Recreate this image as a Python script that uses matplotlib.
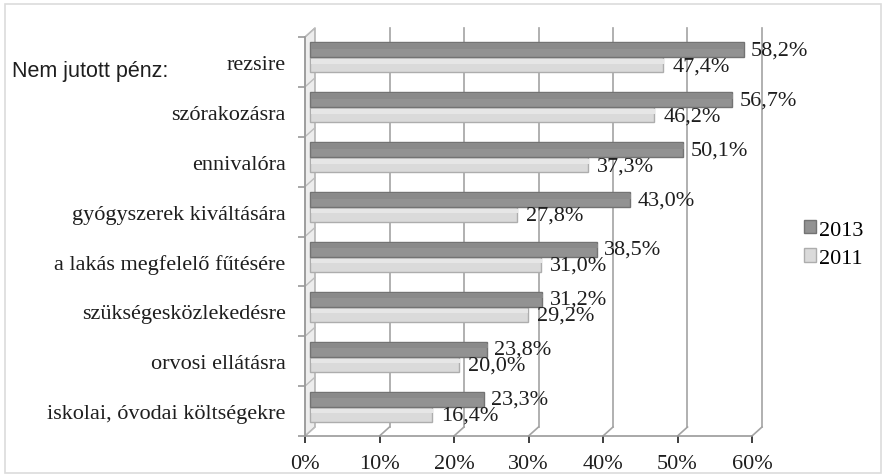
import numpy as np
import matplotlib
matplotlib.use('Agg')
import matplotlib.pyplot as plt
from matplotlib.patches import Polygon, Rectangle

# ── Adatok ───────────────────────────────────────────────────────────────────
categories = ['rezsire', 'szórakozásra', 'ennivalóra', 'gyógyszerek kiváltására',
              'a lakás megfelelő fűtésére', 'szükségesközlekedésre',
              'orvosi ellátásra', 'iskolai, óvodai költségekre']
vals_2013 = [58.2, 56.7, 50.1, 43.0, 38.5, 31.2, 23.8, 23.3]
vals_2011 = [47.4, 46.2, 37.3, 27.8, 31.0, 29.2, 20.0, 16.4]
x_ticks = [0, 10, 20, 30, 40, 50, 60]

SERIF = 'Liberation Serif'
SANS = 'Liberation Sans'
DARK, DARK_EDGE = '#929292', '#737373'
LIGHT, LIGHT_EDGE = '#dadada', '#adadad'
GRID = '#a3a3a3'
TXT = '#1e1e1e'
FS = 16

W, H = 883, 477
fig = plt.figure(figsize=(W / 100, H / 100), dpi=100)
fig.patch.set_facecolor('white')
fig.patches.append(Rectangle((5 / W, 3 / H), (W - 7) / W, (H - 8) / H,
                             transform=fig.transFigure, fill=False,
                             edgecolor='#dcdcdc', linewidth=1.2))

ax_l, ax_r, ax_t, ax_b = 305, 752, 38, 437
ax = fig.add_axes([ax_l / W, (H - ax_b) / H, (ax_r - ax_l) / W, (ax_b - ax_t) / H])
ax.set_xlim(0, 60)
n = len(categories)
ax.set_ylim(n - 0.5, -0.5)
ax.set_facecolor('none')

# pixel -> data units (3D depth offsets)
px_x = (ax_r - ax_l) / 60.0
px_y = (ax_b - ax_t) / n
dxb, dyb = 10 / px_x, -9 / px_y    # back wall
dxm, dym = 5 / px_x, -5 / px_y     # bar plane

# left wall
wall = Polygon([(0, n - 0.5), (0, -0.5), (dxb, -0.5 + dyb), (dxb, n - 0.5 + dyb)],
               closed=True, facecolor='#ededed', edgecolor='#a8a8a8', lw=1.0,
               clip_on=False, zorder=1)
ax.add_patch(wall)
for k in range(n + 1):
    ax.plot([0, dxb], [k - 0.5, k - 0.5 + dyb], color='#bcbcbc', lw=1.0,
            clip_on=False, zorder=1)

# back gridlines + floor slants
for v in x_ticks[1:]:
    ax.plot([v, v + dxb], [n - 0.5, n - 0.5 + dyb], color=GRID, lw=1.2,
            clip_on=False, zorder=1)
    ax.plot([v + dxb, v + dxb], [n - 0.5 + dyb, -0.5 + dyb], color=GRID, lw=1.2,
            clip_on=False, zorder=1)

# bars
y = np.arange(n)
h = 0.30
b13 = ax.barh(y - 0.14 + dym, vals_2013, height=h, left=dxm, color=DARK,
              edgecolor=DARK_EDGE, linewidth=1.0, zorder=3, label='2013')
b11 = ax.barh(y + 0.16 + dym, vals_2011, height=h, left=dxm, color=LIGHT,
              edgecolor=LIGHT_EDGE, linewidth=1.0, zorder=2, label='2011')
# shading on bars
ax.barh(y - 0.14 + dym - h * 0.22, vals_2013, height=h * 0.3, left=dxm + 0.1,
        color='#8a8a8a', linewidth=0, zorder=3)
ax.barh(y + 0.16 + dym - h * 0.22, vals_2011, height=h * 0.3, left=dxm + 0.1,
        color='#e6e6e6', linewidth=0, zorder=2)

lbl = lambda v: f'{v:.1f}%'.replace('.', ',')
for i in range(n):
    ax.text(dxm + vals_2013[i] + 7 / px_x, i - 0.14 + dym, lbl(vals_2013[i]),
            ha='left', va='center', fontsize=FS, family=SERIF, color=TXT, zorder=5)
    ax.text(dxm + vals_2011[i] + 9 / px_x, i + 0.18 + dym, lbl(vals_2011[i]),
            ha='left', va='center', fontsize=FS, family=SERIF, color=TXT, zorder=5)

# axes
for s in ['top', 'right']:
    ax.spines[s].set_visible(False)
for s in ['left', 'bottom']:
    ax.spines[s].set_color('#9a9a9a')
    ax.spines[s].set_linewidth(1.2)
ax.set_xticks(x_ticks)
ax.set_xticklabels([f'{v}%' for v in x_ticks], family=SERIF, fontsize=FS)
ax.set_yticks(y)
ax.set_yticklabels(categories, family=SERIF, fontsize=FS)
ax.set_yticks(np.arange(n + 1) - 0.5, minor=True)
ax.tick_params(axis='y', which='major', length=0, pad=14)
ax.tick_params(axis='y', which='minor', length=5, color='#9a9a9a', width=1.2, direction='out')
ax.tick_params(axis='x', length=5, color='#9a9a9a', width=1.2, pad=8)
ax.tick_params(colors=TXT, which='major')

fig.text(12 / W, 1 - 72 / H, 'Nem jutott pénz:', family=SANS, fontsize=15.5,
         ha='left', va='center', color=TXT)

ax.legend(handles=[b13, b11], loc='center left', bbox_to_anchor=(804 / W, 1 - 245 / H),
          bbox_transform=fig.transFigure, frameon=False, handlelength=0.55,
          handleheight=0.55, handletextpad=0.12, labelspacing=0.4,
          borderpad=0, borderaxespad=0,
          prop={'family': SERIF, 'size': FS})

fig.savefig('out.png', dpi=100)
